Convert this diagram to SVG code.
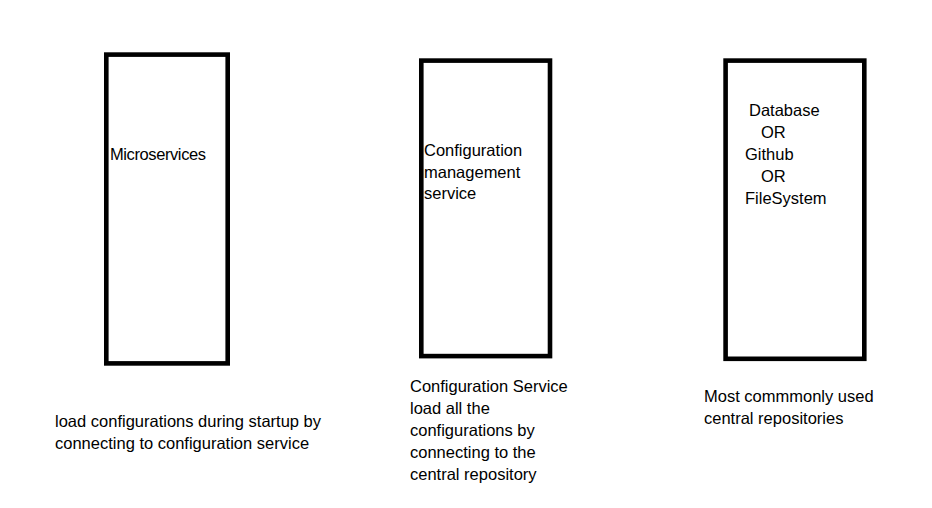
<svg xmlns="http://www.w3.org/2000/svg" width="932" height="508" viewBox="0 0 932 508">
<style>
.box{fill:#fff;stroke:#000;stroke-width:4.6}
text{font-family:"Liberation Sans",Arial,sans-serif;font-size:16.5px;fill:#000}
</style>
<rect width="932" height="508" fill="#fff"/>
<g id="connectors"></g>
<g id="microservices">
<rect class="box" x="106.3" y="54.6" width="121.4" height="308.8"/>
<text x="110" y="160" textLength="96">Microservices</text>
</g>
<g id="config-service">
<rect class="box" x="421.3" y="60.6" width="128.7" height="295.5"/>
<text x="424" y="156">Configuration</text>
<text x="424" y="178">management</text>
<text x="424" y="199">service</text>
</g>
<g id="repositories">
<rect class="box" x="725.6" y="60.6" width="138.7" height="298.2"/>
<text x="749" y="116">Database</text>
<text x="761" y="138">OR</text>
<text x="745" y="160">Github</text>
<text x="761" y="182">OR</text>
<text x="745" y="204">FileSystem</text>
</g>
<g id="captions">
<text x="55" y="427">load configurations during startup by</text>
<text x="55" y="449">connecting to configuration service</text>
<text x="410" y="392">Configuration Service</text>
<text x="410" y="414">load all the</text>
<text x="410" y="436">configurations by</text>
<text x="410" y="458">connecting to the</text>
<text x="410" y="480">central repository</text>
<text x="704" y="402">Most commmonly used</text>
<text x="704" y="424">central repositories</text>
</g>
</svg>
